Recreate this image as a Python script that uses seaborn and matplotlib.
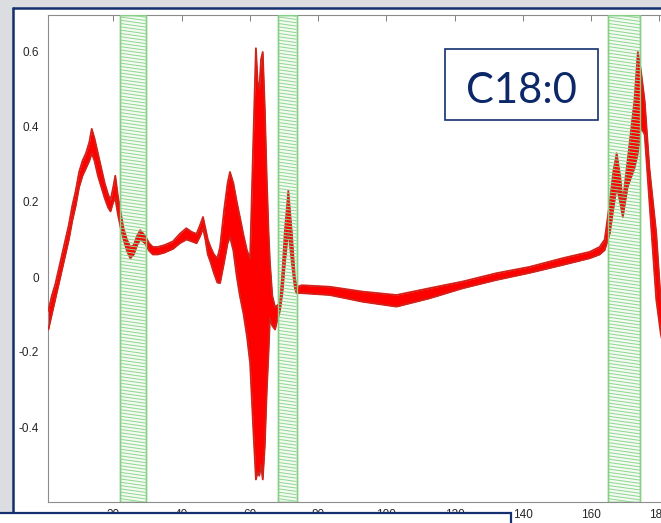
import numpy as np
import pandas as pd
import matplotlib
matplotlib.use("Agg")
import matplotlib.pyplot as plt
import seaborn as sns
from matplotlib.patches import Rectangle
from matplotlib.collections import LineCollection
from matplotlib.lines import Line2D

# ---------------- data ----------------
wavenumber = [1, 2, 3, 4, 5, 6, 7, 8, 9, 10, 11, 12, 13, 13.7, 14.5, 15.5, 16.5,
              17.5, 18.5, 19.2, 20.0, 20.6, 21.3, 22.2, 23.0, 24.0, 25.0, 26.0,
              27.0, 27.9, 29.3, 30.5, 31.6, 33, 35, 37.5, 39.5, 41.4, 43, 44.4,
              45.5, 46.3, 47.0, 47.7, 48.5, 49.5, 50.5, 51.3, 52.5, 53.5, 54.2,
              55.2, 56.2, 57.1, 58.2, 59.2, 60.1, 61.0, 61.8, 62.3, 62.8, 63.3,
              63.8, 64.4, 64.95, 65.5, 65.9, 66.6, 67.4, 68.2, 68.85, 69.6, 70.3,
              71.3, 72.3, 73.2, 73.7, 75.2, 83.4, 93.1, 103, 112.6, 122.4, 132.2,
              142, 151.6, 159.6, 162.5, 164.0, 165.5, 166.5, 167.5, 168.5, 169.3,
              170.7, 172.7, 173.7, 174.6, 175.7, 177.1, 179.1, 180.4, 182, 185]
lower = [-0.14, -0.10, -0.06, -0.02, 0.02, 0.06, 0.10, 0.15, 0.19, 0.24, 0.27,
         0.29, 0.31, 0.33, 0.31, 0.27, 0.24, 0.21, 0.185, 0.175, 0.20, 0.21,
         0.17, 0.13, 0.10, 0.07, 0.05, 0.06, 0.085, 0.10, 0.09, 0.07, 0.06,
         0.06, 0.065, 0.075, 0.09, 0.10, 0.095, 0.09, 0.11, 0.13, 0.10, 0.06,
         0.04, 0.01, -0.015, -0.016, 0.04, 0.09, 0.107, 0.07, 0.0, -0.05,
         -0.10, -0.16, -0.23, -0.40, -0.54, -0.52, -0.53, -0.50, -0.54, -0.45,
         -0.31, -0.20, -0.11, -0.13, -0.14, -0.11, -0.09, -0.04, 0.037, 0.125,
         0.04, -0.03, -0.043, -0.043, -0.048, -0.066, -0.079, -0.057, -0.03,
         -0.008, 0.011, 0.032, 0.05, 0.06, 0.072, 0.117, 0.18, 0.24, 0.20,
         0.16, 0.24, 0.29, 0.33, 0.40, 0.38, 0.20, -0.06, -0.15, -0.22, -0.28]
upper = [-0.09, -0.05, -0.02, 0.02, 0.06, 0.10, 0.14, 0.19, 0.23, 0.28, 0.31,
         0.33, 0.36, 0.395, 0.37, 0.33, 0.29, 0.25, 0.22, 0.205, 0.24, 0.27,
         0.22, 0.17, 0.13, 0.10, 0.08, 0.085, 0.11, 0.125, 0.11, 0.09, 0.08,
         0.08, 0.085, 0.095, 0.115, 0.13, 0.12, 0.115, 0.14, 0.16, 0.13, 0.10,
         0.08, 0.06, 0.05, 0.08, 0.18, 0.25, 0.28, 0.25, 0.20, 0.16, 0.11,
         0.07, 0.05, 0.35, 0.61, 0.52, 0.50, 0.58, 0.60, 0.45, 0.27, 0.12,
         0.04, -0.05, -0.08, -0.075, -0.07, 0.02, 0.125, 0.23, 0.12, 0.0,
         -0.027, -0.022, -0.026, -0.039, -0.048, -0.03, -0.012, 0.01, 0.027,
         0.05, 0.067, 0.08, 0.10, 0.20, 0.28, 0.33, 0.27, 0.20, 0.31, 0.47,
         0.60, 0.55, 0.47, 0.29, 0.117, -0.06, -0.13, -0.18]
band_start = [22.0, 68.3, 165.0]
band_end = [29.5, 73.7, 174.4]
x_ticks = [20, 40, 60, 80, 100, 120, 140, 160, 180]
x_tick_labels = ["20", "40", "60", "80", "100", "120", "140", "160", "180"]
y_ticks = [-0.4, -0.2, 0, 0.2, 0.4, 0.6]
y_tick_labels = ["-0.4", "-0.2", "0", "0.2", "0.4", "0.6"]
label_text = "C18:0"

# ---------------- styling ----------------
sns.set_theme(style="white")
plt.rcParams['font.family'] = ['Liberation Sans', 'DejaVu Sans']

W, H = 661, 523
NAVY = '#14306e'
fig = plt.figure(figsize=(W / 100, H / 100), dpi=100, facecolor='#dcdde0')


def fx(px):
    return px / W


def fy(py):
    return 1 - py / H


# white slide panel with navy frame
fig.add_artist(Rectangle((fx(12.7), -0.1), 1.2, fy(8.3) + 0.1, transform=fig.transFigure,
                         facecolor='white', edgecolor='none', zorder=-10))
fig.add_artist(Line2D([fx(12.7), fx(12.7)], [fy(8.3), fy(513)], transform=fig.transFigure,
                      color=NAVY, lw=1.8, zorder=1))
fig.add_artist(Line2D([fx(12.7), 1.05], [fy(8.3), fy(8.3)], transform=fig.transFigure,
                      color=NAVY, lw=1.8, zorder=1))

xlim = (1, 190)
ylim = (-0.6, 0.7)
ax_w_px = (xlim[1] - xlim[0]) * 3.413
ax_h_px = 487.5
ax = fig.add_axes([fx(48.4), fy(502), ax_w_px / W, ax_h_px / H])
ax.set_facecolor('white')
ax.set_xlim(*xlim)
ax.set_ylim(*ylim)

# spectra envelope
ax.fill_between(wavenumber, lower, upper, color='#ff0000', lw=0, zorder=2)
n = len(wavenumber)
df = pd.DataFrame({'wavenumber': wavenumber * 2,
                   'absorbance': lower + upper,
                   'edge': ['lower'] * n + ['upper'] * n})
sns.lineplot(data=df, x='wavenumber', y='absorbance', units='edge', estimator=None,
             color='#e01a12', lw=1.3, ax=ax, legend=False, zorder=3)
sns.lineplot(data=df, x='wavenumber', y='absorbance', units='edge', estimator=None,
             color='#b83228', lw=0.4, ax=ax, legend=False, zorder=3)

# hatched green bands
sx = ax_w_px / (xlim[1] - xlim[0])
sy = ax_h_px / (ylim[1] - ylim[0])
spacing_px = 3.3
slope = 0.14
for a, b in zip(band_start, band_end):
    rect = Rectangle((a, ylim[0]), b - a, ylim[1] - ylim[0], facecolor='#f3fbf3',
                     edgecolor='#86d086', lw=1.0, zorder=1)
    ax.add_patch(rect)
    edge = Rectangle((a, ylim[0]), b - a, ylim[1] - ylim[0], facecolor='none',
                     edgecolor='#86d086', lw=1.0, zorder=6)
    ax.add_patch(edge)
    drop = slope * (b - a) * sx / sy
    starts = np.arange(ylim[0], ylim[1] + drop + 0.02, spacing_px / sy)
    segs = [[(a, y0), (b, y0 - drop)] for y0 in starts]
    lc = LineCollection(segs, colors='#8fd68f', linewidths=0.7, zorder=5)
    ax.add_collection(lc)
    lc.set_clip_path(edge)

ax.set_xticks(x_ticks)
ax.set_xticklabels(x_tick_labels)
ax.set_yticks(y_ticks)
ax.set_yticklabels(y_tick_labels)
ax.set_xlabel('')
ax.set_ylabel('')
ax.tick_params(axis='both', direction='in', length=4.5, width=0.7, colors='#808080',
               labelcolor='#262626', labelsize=8.5, top=True, right=True)
ax.tick_params(axis='x', pad=5)
ax.tick_params(axis='y', pad=7)
for s in ax.spines.values():
    s.set_visible(True)
    s.set_color('#8c8c8c')
    s.set_linewidth(0.8)

# label box
fig.add_artist(Rectangle((fx(445), fy(120)), 153 / W, 71 / H, transform=fig.transFigure,
                         facecolor='white', edgecolor=NAVY, lw=1.2, zorder=10))
fig.text(fx(521), fy(103), label_text, ha='center', va='baseline', fontsize=30,
         color='#0c2868', family=['Lato', 'DejaVu Sans'], zorder=11)

# lower white box overlapping the tick labels
fig.add_artist(Rectangle((fx(-10), fy(540)), (510.7 + 10) / W, (540 - 513) / H,
                         transform=fig.transFigure, facecolor='white', edgecolor=NAVY,
                         lw=1.6, zorder=10))

fig.savefig('out.png', dpi=100, facecolor=fig.get_facecolor())
